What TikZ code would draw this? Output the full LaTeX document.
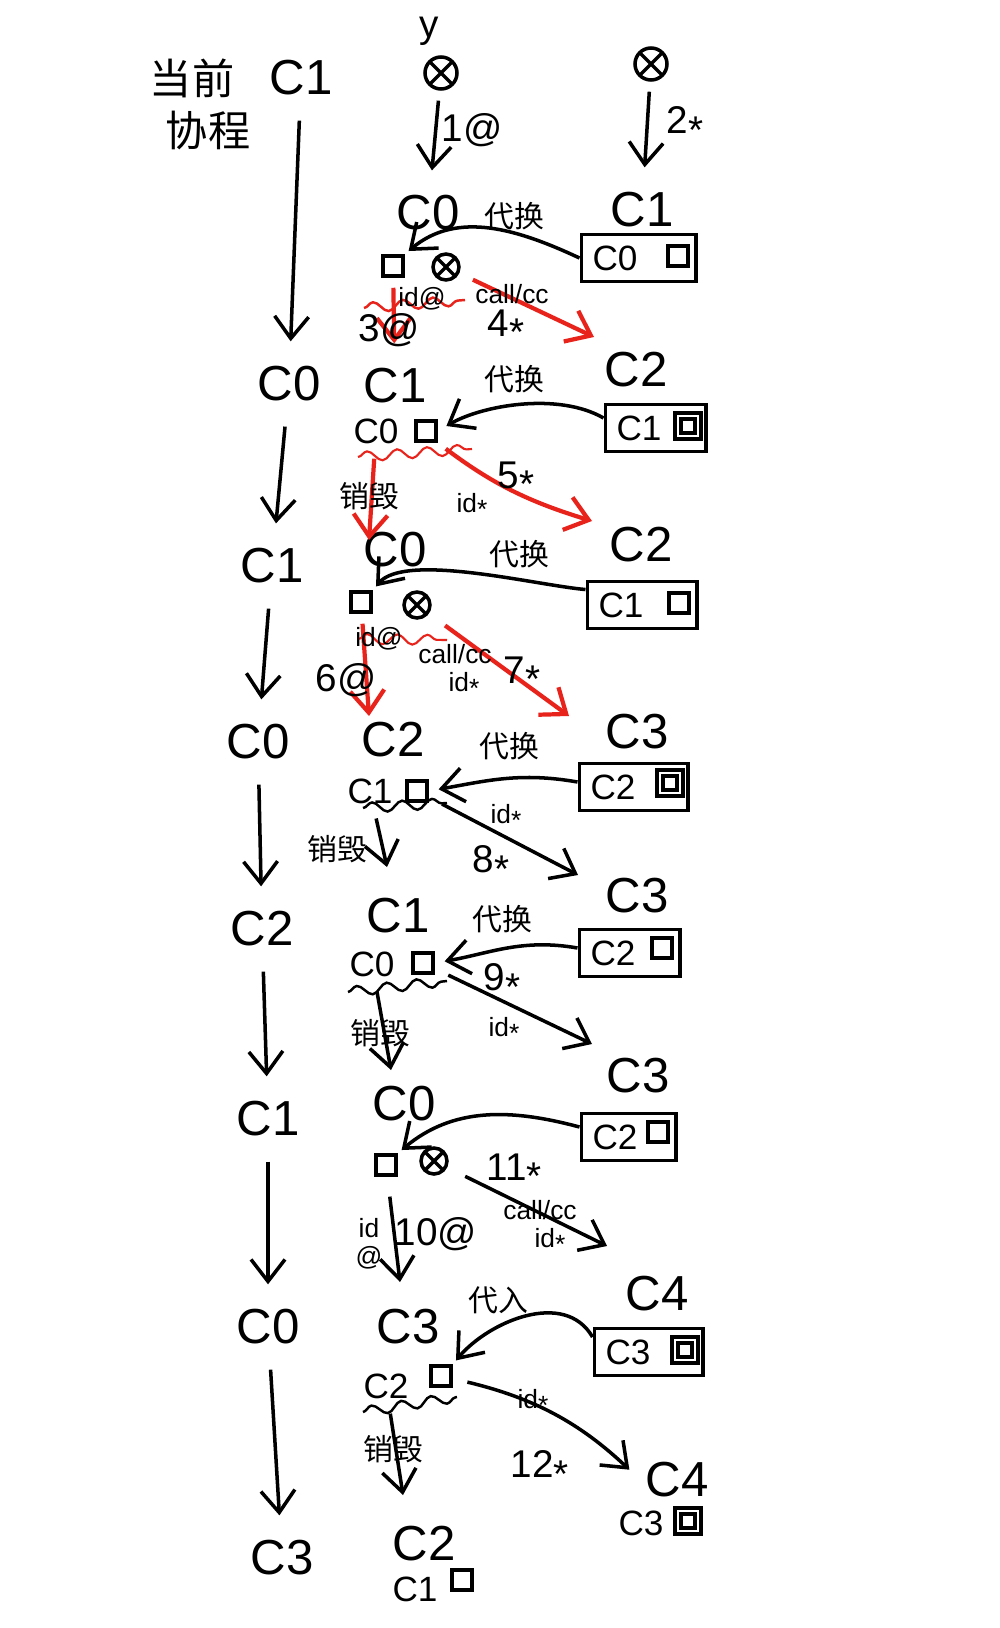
\documentclass[tikz,border=0pt]{standalone}
\usepackage{fontspec}
\setmainfont{Liberation Sans}
\newfontfamily\cjk{Noto Sans CJK SC}
\usetikzlibrary{arrows.meta,positioning,fit,decorations.pathmorphing}
\definecolor{penRed}{HTML}{E8231C}
\newcommand{\starx}{\raisebox{-.45ex}{*}}

\begin{document}
\begin{tikzpicture}[
  line width=1pt,
  >={Straight Barb[length=2.2mm,width=3.4mm]},
  cname/.style={font=\fontsize{14}{14}\selectfont,inner sep=1pt},
  sname/.style={font=\fontsize{10}{10}\selectfont,inner sep=1pt},
  num/.style={font=\fontsize{11}{11}\selectfont,inner sep=1pt},
  mini/.style={font=\fontsize{7.5}{8}\selectfont,inner sep=1pt},
  hanzi/.style={font=\cjk\fontsize{8.5}{9}\selectfont,inner sep=1pt},
  bighanzi/.style={font=\cjk\fontsize{12}{12}\selectfont,inner sep=1pt},
  sq/.style={draw,minimum size=.2cm,inner sep=0pt},
  dsq/.style={sq,double,double distance=.8pt},
  ox/.style={circle,draw,minimum size=.26cm,inner sep=0pt,
    path picture={\draw (path picture bounding box.north west) -- (path picture bounding box.south east)
      (path picture bounding box.north east) -- (path picture bounding box.south west);}},
  cbox/.style={draw,inner sep=.06cm},
  hot/.style={penRed,line width=1.2pt},
  wave/.style={line width=.7pt,decorate,decoration={snake,amplitude=.5mm,segment length=3mm}},
  colarrow/.style={->,shorten <=2mm,shorten >=2mm}
]
  \useasboundingbox (0,0) rectangle (10,-16.28);

  % left column: current coroutine
  \node[bighanzi] (cur) at (1.92,-.78) {当前};
  \node[bighanzi] (cor) at (2.08,-1.30) {协程};
  \foreach \i/\x/\y/\t in {0/3.01/-.78/C1,1/2.89/-3.84/C0,2/2.72/-5.66/C1,3/2.58/-7.42/C0,
                           4/2.62/-9.29/C2,5/2.68/-11.19/C1,6/2.68/-13.27/C0,7/2.82/-15.58/C3}
    \node[cname] (k\i) at (\x,\y) {\t};
  \foreach \a/\b in {0/1,1/2,2/3,3/4,4/5,5/6,6/7}
    \draw[colarrow] (k\a) -- (k\b);

  % top
  \node[num] (y) at (4.29,-.31) {y};
  \node[ox,minimum size=.32cm] (x1) at (4.41,-.73) {};
  \node[ox,minimum size=.32cm] (x2) at (6.51,-.64) {};

  % middle and right headings
  \foreach \i/\x/\y/\t in {1/4.28/-2.13/C0,2/3.95/-3.86/C1,3/3.95/-5.50/C0,4/3.93/-7.40/C2,
                           5/3.98/-9.16/C1,6/4.04/-11.04/C0,7/4.08/-13.27/C3,8/4.24/-15.44/C2}
    \node[cname] (h\i) at (\x,\y) {\t};
  \foreach \i/\x/\y/\t in {1/6.42/-2.10/C1,2/6.36/-3.70/C2,3/6.41/-5.45/C2,4/6.37/-7.32/C3,
                           5/6.37/-8.96/C3,6/6.38/-10.76/C3,7/6.57/-12.94/C4,8/6.77/-14.80/C4}
    \node[cname] (r\i) at (\x,\y) {\t};

  \draw[colarrow,shorten <=1mm] (x1) -- (h1);
  \draw[colarrow,shorten <=1mm] (x2) -- (r1);
  \node[num] (n1) at (4.72,-1.30) {1@};
  \node[num] (n2) at (6.85,-1.25) {2\starx};

  % saved boxes
  \foreach \i/\x/\y/\t/\s/\sx/\sy in {1/6.15/-2.58/C0/sq/6.78/-2.56,2/6.39/-4.28/C1/dsq/6.88/-4.26,
                                      3/6.21/-6.05/C1/sq/6.79/-6.03,4/6.13/-7.87/C2/dsq/6.70/-7.83,
                                      5/6.13/-9.53/C2/sq/6.62/-9.48,6/6.15/-11.37/C2/sq/6.58/-11.32,
                                      7/6.28/-13.52/C3/dsq/6.85/-13.50}{
    \node[sname] (bt\i) at (\x,\y) {\t};
    \node[\s] (bs\i) at (\sx,\sy) {};
    \node[cbox,fit=(bt\i)(bs\i)] (box\i) {};
  }
  \node[sname] (bt8) at (6.41,-15.23) {C3};
  \node[dsq] (bs8) at (6.88,-15.21) {};

  % row contents
  \node[sq] (s1) at (3.93,-2.66) {};
  \node[ox] (o1) at (4.46,-2.67) {};
  \node[sname] (a2) at (3.76,-4.31) {C0};
  \node[sq] (s2) at (4.26,-4.31) {};
  \node[sq] (s3) at (3.61,-6.02) {};
  \node[ox] (o3) at (4.17,-6.05) {};
  \node[sname] (a4) at (3.70,-7.91) {C1};
  \node[sq] (s4) at (4.17,-7.91) {};
  \node[sname] (a5) at (3.72,-9.64) {C0};
  \node[sq] (s5) at (4.23,-9.63) {};
  \node[sq] (s6) at (3.86,-11.65) {};
  \node[ox] (o6) at (4.34,-11.61) {};
  \node[sname] (a7) at (3.86,-13.86) {C2};
  \node[sq] (s7) at (4.41,-13.76) {};
  \node[sname] (a8) at (4.15,-15.89) {C1};
  \node[sq] (s8) at (4.62,-15.80) {};

  % swaps
  \draw[->,shorten >=.5mm] (box1.west) to[out=155,in=40] (s1.north east);
  \draw[->,shorten >=1mm] ([yshift=1mm]box2.west) to[out=150,in=30,looseness=.8] (s2.east);
  \draw[->,shorten >=.5mm] ([yshift=-1mm]box3.north west) to[out=175,in=50,looseness=.6] (s3.north east);
  \draw[->,shorten >=1mm] ([yshift=.5mm]box4.west) to[out=170,in=10] (s4.east);
  \draw[->,shorten >=1mm] ([yshift=.5mm]box5.west) to[out=170,in=10] (s5.east);
  \draw[->,shorten >=.5mm] ([yshift=1mm]box6.west) to[out=165,in=40] (s6.north east);
  \draw[->,shorten >=.5mm] ([yshift=1.5mm]box7.west) to[out=120,in=50] (s7.north east);
  \node[hanzi] (w1) at (5.14,-2.16) {代换};
  \node[hanzi] (w2) at (5.14,-3.79) {代换};
  \node[hanzi] (w3) at (5.19,-5.54) {代换};
  \node[hanzi] (w4) at (5.09,-7.46) {代换};
  \node[hanzi] (w5) at (5.02,-9.19) {代换};
  \node[hanzi] (w7) at (4.98,-13.00) {代入};

  % row 1
  \draw[hot,wave] (3.64,-3.08) -- (4.65,-3.00);
  \coordinate (e1) at (5.94,-3.37);
  \draw[hot,->,shorten <=1mm,shorten >=2mm] (s1) -- (h2);
  \draw[hot,->,shorten <=1.5mm] (o1) -- (e1);
  \node[mini] (t1a) at (4.22,-2.99) {id@};
  \node[num] (t1b) at (3.89,-3.30) {3@};
  \node[mini] (t1c) at (5.12,-2.94) {call/cc};
  \node[num] (t1d) at (5.06,-3.28) {4\starx};

  % row 2
  \draw[hot,wave,line width=.6pt] (3.58,-4.57) -- (4.72,-4.49);
  \coordinate (d2) at (3.69,-5.40);
  \coordinate (e2) at (5.92,-5.21);
  \draw[hot,->,shorten <=1mm] (a2) -- (d2);
  \draw[hot,->,shorten <=1mm] (s2.south east) to[bend right=10] (e2);
  \node[hanzi] (t2a) at (3.69,-4.96) {销毁};
  \node[num] (t2b) at (5.16,-4.80) {5\starx};
  \node[mini] (t2c) at (4.72,-5.06) {id\starx};

  % row 3
  \draw[hot,wave,line width=.6pt] (3.58,-6.39) -- (4.47,-6.40);
  \coordinate (d3) at (3.69,-7.16);
  \coordinate (e3) at (5.69,-7.16);
  \draw[hot,->,shorten <=1mm] (s3) -- (d3);
  \draw[hot,->,shorten <=2mm] (o3) -- (e3);
  \node[mini] (t3a) at (3.79,-6.39) {id@};
  \node[num] (t3b) at (3.46,-6.80) {6@};
  \node[mini] (t3c) at (4.55,-6.54) {call/cc};
  \node[mini] (t3d) at (4.64,-6.85) {id\starx};
  \node[num] (t3e) at (5.22,-6.75) {7\starx};

  % row 4
  \draw[wave] (3.63,-8.08) -- (4.47,-8.03);
  \coordinate (d4) at (3.87,-8.67);
  \coordinate (e4) at (5.78,-8.75);
  \draw[->,shorten <=1mm] (a4) -- (d4);
  \draw[->,shorten <=1.5mm] (s4) -- (e4);
  \node[hanzi] (t4a) at (3.37,-8.49) {销毁};
  \node[mini] (t4b) at (5.06,-8.17) {id\starx};
  \node[num] (t4c) at (4.91,-8.64) {8\starx};

  % row 5
  \draw[wave] (3.48,-9.92) -- (4.47,-9.81);
  \coordinate (d5) at (3.91,-10.70);
  \coordinate (e5) at (5.92,-10.44);
  \draw[->,shorten <=1mm] (a5) -- (d5);
  \draw[->,shorten <=1.5mm] (s5) -- (e5);
  \node[hanzi] (t5a) at (3.80,-10.33) {销毁};
  \node[num] (t5b) at (5.02,-9.82) {9\starx};
  \node[mini] (t5c) at (5.04,-10.30) {id\starx};

  % row 6
  \coordinate (d6) at (4.00,-12.82);
  \coordinate (e6) at (6.07,-12.46);
  \draw[->,shorten <=2mm] (s6) -- (d6);
  \draw[->,shorten <=2mm] (o6) -- (e6);
  \node[mini,align=center] (t6a) at (3.69,-12.44) {id\\@};
  \node[num] (t6b) at (4.36,-12.34) {10@};
  \node[num] (t6c) at (5.14,-11.72) {11\starx};
  \node[mini] (t6d) at (5.40,-12.10) {call/cc};
  \node[mini] (t6e) at (5.50,-12.41) {id\starx};

  % row 7
  \draw[wave] (3.63,-14.12) -- (4.57,-13.97);
  \coordinate (d7) at (4.03,-14.95);
  \draw[->,shorten <=1mm] (a7) -- (d7);
  \draw[->,shorten <=1.5mm,shorten >=1.5mm] (s7) to[bend left=15] (r8.west);
  \node[hanzi] (t7a) at (3.93,-14.49) {销毁};
  \node[mini] (t7b) at (5.33,-14.02) {id\starx};
  \node[num] (t7c) at (5.40,-14.69) {12\starx};
\end{tikzpicture}
\end{document}
